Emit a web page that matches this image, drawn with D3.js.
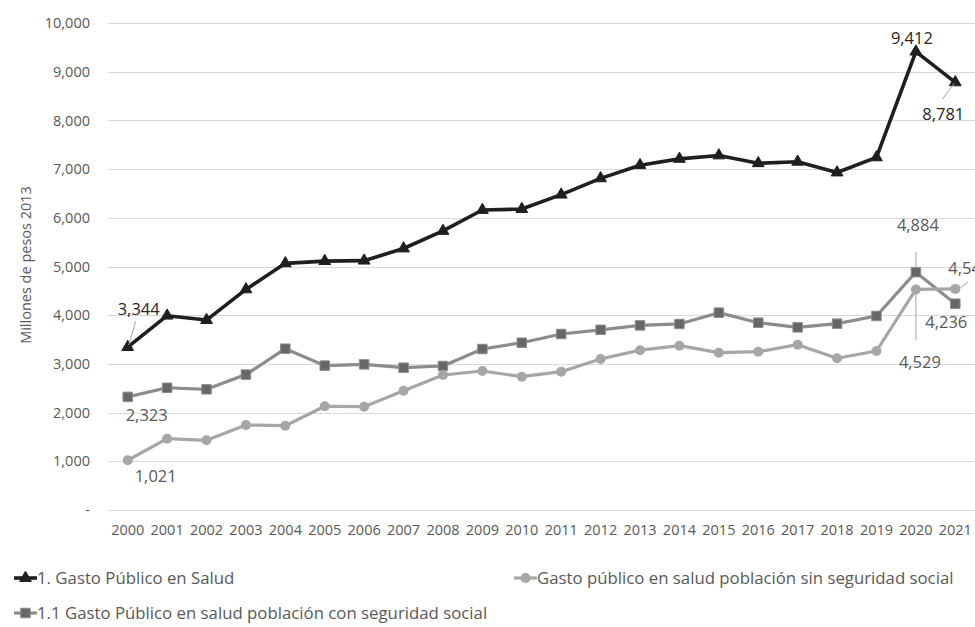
<!DOCTYPE html>
<html>
<head>
<meta charset="utf-8">
<script src="https://cdn.jsdelivr.net/npm/d3@7"></script>
<style>
  body { margin: 0; background: #fff; }
  svg { display: block; }
</style>
</head>
<body>
<div id="chart"></div>
<script>
// data
const years = [2000, 2001, 2002, 2003, 2004, 2005, 2006, 2007, 2008, 2009, 2010,
               2011, 2012, 2013, 2014, 2015, 2016, 2017, 2018, 2019, 2020, 2021];
const gastoTotal = [3344, 3990, 3900, 4530, 5065, 5110, 5120, 5370, 5730, 6160, 6180,
                    6475, 6810, 7080, 7210, 7280, 7120, 7150, 6930, 7240, 9412, 8781];
const gastoCon = [2323, 2510, 2478, 2780, 3312, 2965, 2990, 2922, 2957, 3306, 3435,
                  3614, 3700, 3790, 3820, 4052, 3846, 3750, 3826, 3984, 4884, 4236];
const gastoSin = [1021, 1464, 1431, 1745, 1731, 2130, 2121, 2450, 2772, 2854, 2737,
                  2840, 3100, 3282, 3374, 3230, 3251, 3395, 3115, 3265, 4529, 4540];
const yTicks = [0, 1000, 2000, 3000, 4000, 5000, 6000, 7000, 8000, 9000, 10000];
const seriesNames = [
  "1. Gasto Público en Salud",
  "Gasto público en salud población sin seguridad social",
  "1.1 Gasto Público en salud población con seguridad social"
];

const width = 975, height = 627;
const font = "'Open Sans', 'Noto Sans', sans-serif";

const svg = d3.select("#chart").append("svg")
    .attr("width", width)
    .attr("height", height)
    .attr("font-family", font);

const x = d3.scaleBand().domain(years).range([108, 975]).padding(0);
const cx = d => x(d) + x.bandwidth() / 2;
const y = d3.scaleLinear().domain([0, 10000]).range([510, 23]);

// gridlines
svg.append("g")
    .selectAll("line")
    .data(yTicks)
    .join("line")
    .attr("x1", 108)
    .attr("x2", 975)
    .attr("y1", d => Math.round(y(d)) + 0.5)
    .attr("y2", d => Math.round(y(d)) + 0.5)
    .attr("stroke", "#d9d9d9")
    .attr("stroke-width", 1);

// y axis labels
const yAxis = svg.append("g")
    .attr("transform", "translate(90,0)")
    .call(d3.axisLeft(y).tickValues(yTicks).tickSize(0).tickPadding(0)
        .tickFormat(d => d === 0 ? "-  " : d3.format(",")(d)));
yAxis.select(".domain").remove();
yAxis.selectAll("text")
    .attr("font-family", font)
    .attr("font-size", 14.5)
    .attr("fill", "#595959");

// x axis labels
const xAxis = svg.append("g")
    .attr("transform", "translate(0,525)")
    .call(d3.axisBottom(x).tickSize(0).tickPadding(0));
xAxis.select(".domain").remove();
xAxis.selectAll("text")
    .attr("font-family", font)
    .attr("font-size", 14.5)
    .attr("fill", "#595959");

// y axis title
svg.append("text")
    .attr("transform", "translate(31,265) rotate(-90)")
    .attr("text-anchor", "middle")
    .attr("font-size", 14.5)
    .attr("fill", "#595959")
    .text("Millones de pesos 2013");

const triangle = d3.symbol().type(d3.symbolTriangle).size(60);
const square = d3.symbol().type(d3.symbolSquare).size(90);

const series = [
  { name: seriesNames[2], values: gastoCon, line: "#8c8c8c", width: 3.2,
    fill: "#676767", stroke: "#8c8c8c", shape: square },
  { name: seriesNames[1], values: gastoSin, line: "#a6a6a6", width: 3.2,
    fill: "#a6a6a6", stroke: "#a6a6a6", shape: null },
  { name: seriesNames[0], values: gastoTotal, line: "#1f1f1f", width: 3.6,
    fill: "#1f1f1f", stroke: "#1f1f1f", shape: triangle }
];

const line = d3.line()
    .x((d, i) => cx(years[i]))
    .y(d => y(d));

series.forEach(s => {
  const g = svg.append("g");
  g.append("path")
      .datum(s.values)
      .attr("d", line)
      .attr("fill", "none")
      .attr("stroke", s.line)
      .attr("stroke-width", s.width)
      .attr("stroke-linejoin", "round");
  if (s.shape) {
    g.selectAll("path.m")
        .data(s.values)
        .join("path")
        .attr("class", "m")
        .attr("d", s.shape)
        .attr("transform", (d, i) => `translate(${cx(years[i])},${y(d)})`)
        .attr("fill", s.fill)
        .attr("stroke", s.stroke)
        .attr("stroke-width", 1);
  } else {
    g.selectAll("circle")
        .data(s.values)
        .join("circle")
        .attr("cx", (d, i) => cx(years[i]))
        .attr("cy", d => y(d))
        .attr("r", 5)
        .attr("fill", s.fill);
  }
});

// data labels with leader lines
const fmt = d3.format(",");
const idx = y0 => years.indexOf(y0);
const annotations = [
  { v: gastoTotal, yr: 2000, dx: 11, dy: -32, color: "#262626", lead: [[8, -26], [1, -2]] },
  { v: gastoCon, yr: 2000, dx: 19, dy: 24, color: "#595959" },
  { v: gastoSin, yr: 2000, dx: 28, dy: 22, color: "#595959" },
  { v: gastoTotal, yr: 2020, dx: -4, dy: -8, color: "#262626" },
  { v: gastoTotal, yr: 2021, dx: -12, dy: 38, color: "#262626", lead: [[-1, 1], [-13, 17]] },
  { v: gastoCon, yr: 2020, dx: 2, dy: -41, color: "#595959", lead: [[0, -20], [0, -4]] },
  { v: gastoCon, yr: 2021, dx: -9, dy: 24, color: "#595959" },
  { v: gastoSin, yr: 2020, dx: 4, dy: 79, color: "#595959", lead: [[0, 3], [0, 51]] },
  { v: gastoSin, yr: 2021, dx: 13, dy: -15, color: "#595959", anchor: "start",
    lead: [[5, -1], [13, -7]] }
];

annotations.forEach(a => {
  const i = idx(a.yr);
  const px = cx(a.yr), py = y(a.v[i]);
  if (a.lead) {
    svg.append("line")
        .attr("x1", px + a.lead[0][0]).attr("y1", py + a.lead[0][1])
        .attr("x2", px + a.lead[1][0]).attr("y2", py + a.lead[1][1])
        .attr("stroke", "#a6a6a6")
        .attr("stroke-width", 1);
  }
  svg.append("text")
      .attr("x", a.anchor === "start" ? px - 7 : px + a.dx)
      .attr("y", py + a.dy)
      .attr("text-anchor", a.anchor || "middle")
      .attr("font-size", 16.5)
      .attr("fill", a.color)
      .text(fmt(a.v[i]));
});

// legend
const legendItems = [
  { s: series[2], x: 14, y: 578 },
  { s: series[1], x: 514, y: 578 },
  { s: series[0], x: 14, y: 613 }
];

legendItems.forEach(l => {
  const g = svg.append("g").attr("transform", `translate(${l.x},${l.y})`);
  g.append("line")
      .attr("x1", 0).attr("x2", 23)
      .attr("stroke", l.s.line)
      .attr("stroke-width", l.s.width);
  if (l.s.shape) {
    g.append("path")
        .attr("d", l.s.shape)
        .attr("transform", "translate(11.5,0)")
        .attr("fill", l.s.fill)
        .attr("stroke", l.s.stroke);
  } else {
    g.append("circle")
        .attr("cx", 11.5)
        .attr("r", 5)
        .attr("fill", l.s.fill);
  }
  g.append("text")
      .attr("x", 23)
      .attr("dy", "0.35em")
      .attr("font-size", 16.8)
      .attr("fill", "#595959")
      .text(l.s.name);
});
</script>
</body>
</html>
